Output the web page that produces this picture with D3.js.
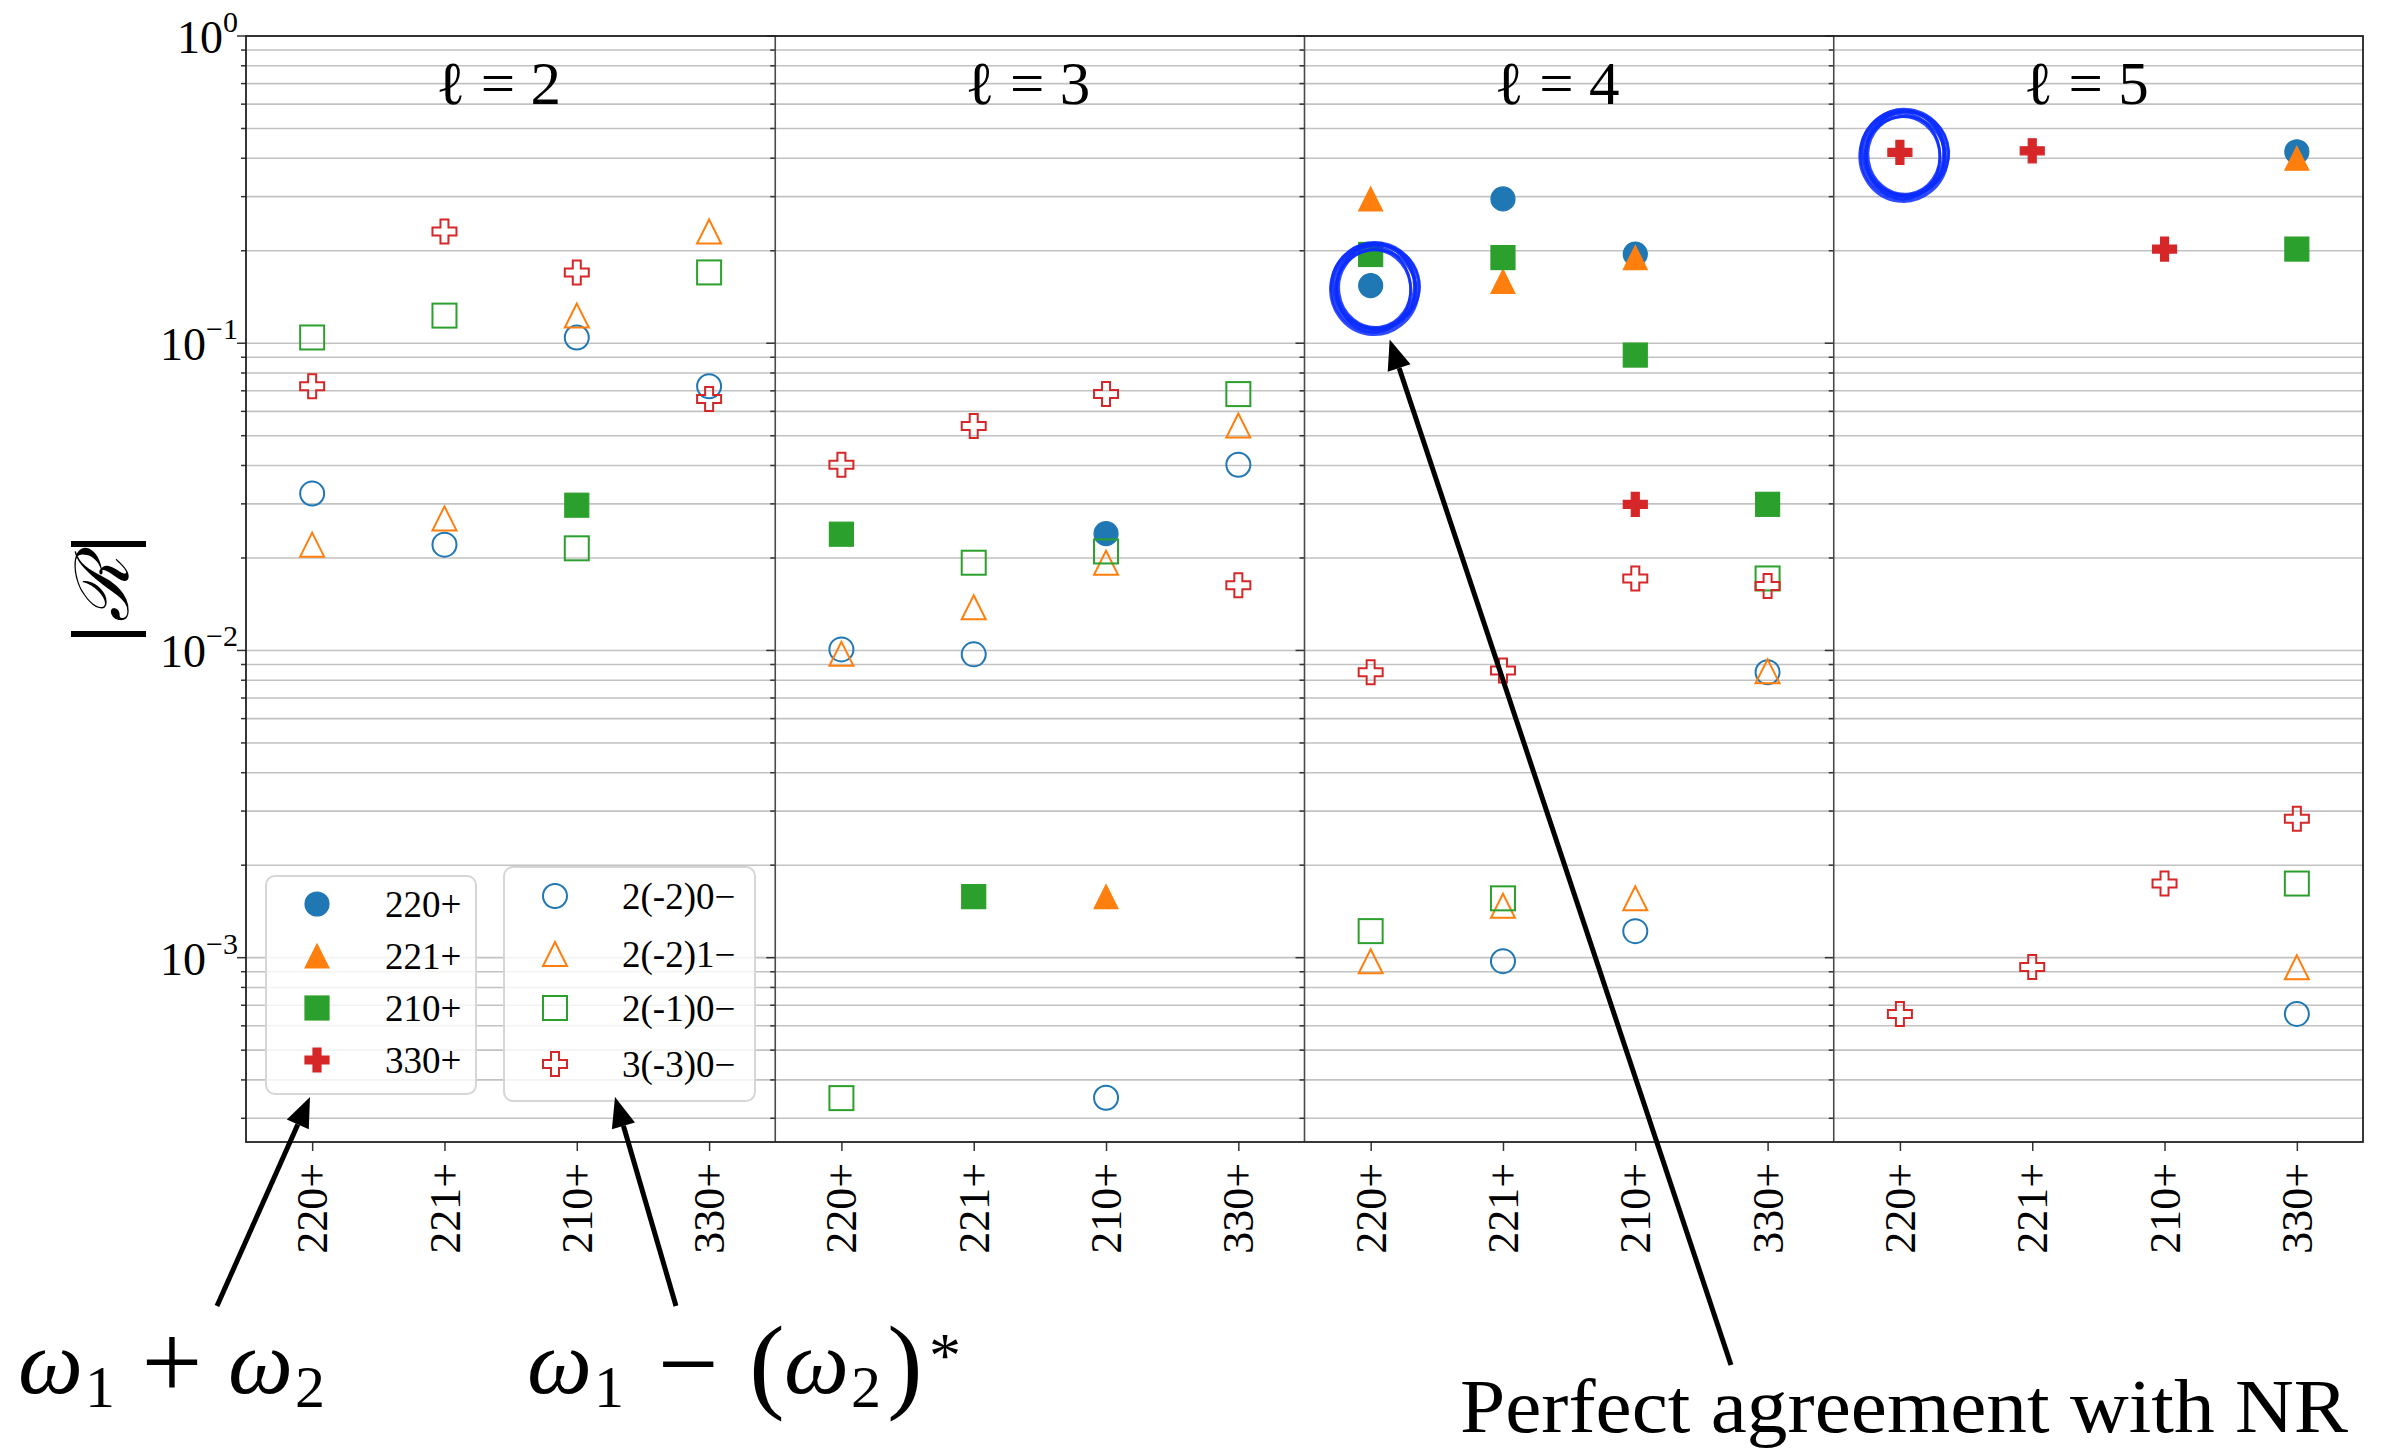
<!DOCTYPE html>
<html>
<head>
<meta charset="utf-8">
<script src="https://cdn.jsdelivr.net/npm/d3@7"></script>
<style>
  html, body { margin: 0; padding: 0; background: #fff; }
  svg { display: block; }
</style>
</head>
<body>
<svg id="chart" width="2381" height="1451"></svg>
<script>
// ---- data -------------------------------------------------------------
// One panel per multipole ℓ of the quadratic mode
const panels = ["2", "3", "4", "5"];
// Parent-mode combinations along each panel's x axis
const categories = ["220+", "221+", "210+", "330+"];

// Legend labels: sum-frequency (ω1+ω2) and difference-frequency (ω1−ω2*) families
const sumLabels = ["220+", "221+", "210+", "330+"];
const diffLabels = ["2(-2)0−", "2(-2)1−", "2(-1)0−", "3(-3)0−"];

// Decade ticks of the |R| axis and their exponents
const yTickValues = [1, 0.1, 0.01, 0.001];
const yTickExponents = ["0", "−1", "−2", "−3"];

// |R| values, 16 per series: ℓ = 2, 3, 4, 5, each over 220+, 221+, 210+, 330+
const r220p = [null, null, null, null,   null, null, 0.0240, null,   0.154, 0.295, 0.195, null,    null, null, null, 0.420];
const r221p = [null, null, null, null,   null, null, 0.00158, null,  0.295, 0.159, 0.190, null,    null, null, null, 0.400];
const r210p = [null, null, 0.0297, null, 0.0239, 0.00158, null, null, 0.1945, 0.190, 0.0915, 0.0299, null, null, null, 0.2025];
const r330p = [null, null, null, null,   null, null, null, null,     null, null, 0.0299, null,     0.418, 0.423, 0.2025, null];

const r2m20m = [0.0324, 0.0221, 0.1044, 0.0724,  0.01008, 0.00971, 0.00035, 0.0402,  null, 0.000974, 0.00122, 0.00849,  null, null, null, 0.000656];
const r2m21m = [0.0221, 0.0269, 0.123, 0.231,    0.00975, 0.01382, 0.0193, 0.0540,    0.000974, 0.001476, 0.00156, 0.00855, null, null, null, 0.00093];
const r2m10m = [0.1044, 0.123, 0.0215, 0.170,    0.000349, 0.0193, 0.0210, 0.0683,    0.00122, 0.00156, null, 0.01715,  null, null, null, 0.001743];
const r3m30m = [0.0724, 0.231, 0.170, 0.0658,    0.0402, 0.0538, 0.0683, 0.0163,      0.00849, 0.00861, 0.01715, 0.0162, 0.000656, 0.000933, 0.001743, 0.00283];

// ---- series styling ---------------------------------------------------
const palette = { blue: "#1f77b4", orange: "#ff7f0e", green: "#2ca02c", red: "#d62728" };
const series = [
  { label: sumLabels[0],  values: r220p,  shape: "circle",   color: palette.blue,   filled: true },
  { label: sumLabels[1],  values: r221p,  shape: "triangle", color: palette.orange, filled: true },
  { label: sumLabels[2],  values: r210p,  shape: "square",   color: palette.green,  filled: true },
  { label: sumLabels[3],  values: r330p,  shape: "plus",     color: palette.red,    filled: true },
  { label: diffLabels[0], values: r2m20m, shape: "circle",   color: palette.blue,   filled: false },
  { label: diffLabels[1], values: r2m21m, shape: "triangle", color: palette.orange, filled: false },
  { label: diffLabels[2], values: r2m10m, shape: "square",   color: palette.green,  filled: false },
  { label: diffLabels[3], values: r3m30m, shape: "plus",     color: palette.red,    filled: false }
];

// Points singled out by hand-drawn rings (panel, category, series index)
const highlights = [
  { panel: "4", cat: "220+", s: 0 },
  { panel: "5", cat: "220+", s: 3 }
];

// ---- layout -----------------------------------------------------------
const W = 2381, H = 1451;
const plot = { left: 246, right: 2363, top: 36, bottom: 1142 };
const panelW = (plot.right - plot.left) / panels.length;
const MS = 24;                       // marker size in px
const serif = "'Liberation Serif', 'DejaVu Serif', serif";

const y = d3.scaleLog().domain([Math.pow(10, -3.6), 1]).range([plot.bottom, plot.top]);
const xs = panels.map((p, i) =>
  d3.scalePoint().domain(categories)
    .range([plot.left + i * panelW, plot.left + (i + 1) * panelW])
    .padding(0.5));

const svg = d3.select("#chart");
svg.append("rect").attr("width", W).attr("height", H).attr("fill", "#fff");

// ---- grid (major + minor decades) -------------------------------------
const gridVals = y.ticks().filter(v => v >= y.domain()[0] * 0.999 && v <= 1.0001);
const isMajor = v => Math.abs(Math.log10(v) - Math.round(Math.log10(v))) < 1e-6;

svg.append("g").attr("class", "grid")
  .selectAll("line").data(gridVals).join("line")
  .attr("x1", plot.left).attr("x2", plot.right)
  .attr("y1", d => y(d)).attr("y2", d => y(d))
  .attr("stroke", "#c2c2c2").attr("stroke-width", 1.6);

// ---- y ticks on the left spine of every panel -------------------------
panels.forEach((p, i) => {
  const x0 = plot.left + i * panelW;
  svg.append("g").selectAll("line").data(gridVals).join("line")
    .attr("x1", d => x0 - (isMajor(d) ? 9 : 5)).attr("x2", x0)
    .attr("y1", d => y(d)).attr("y2", d => y(d))
    .attr("stroke", "#333").attr("stroke-width", 1.5);
});

// y tick labels 10^k
const yLab = svg.append("g").attr("font-family", serif).attr("fill", "#000");
yTickValues.forEach((v, k) => {
  const t = yLab.append("text")
    .attr("x", 238).attr("y", y(v) + 17)
    .attr("text-anchor", "end").attr("font-size", 46);
  t.append("tspan").text("10");
  t.append("tspan").attr("font-size", 30).attr("dy", -21).text(yTickExponents[k]);
});

// ---- x axes, one per panel --------------------------------------------
xs.forEach((xs_i, i) => {
  const gx = svg.append("g")
    .attr("transform", `translate(0,${plot.bottom})`)
    .call(d3.axisBottom(xs_i).tickSize(9));
  gx.select(".domain").remove();
  gx.selectAll(".tick line").attr("stroke", "#333").attr("stroke-width", 1.5);
  gx.selectAll(".tick text")
    .attr("font-family", serif).attr("font-size", 44).attr("fill", "#000")
    .attr("transform", "rotate(-90)")
    .attr("text-anchor", "end")
    .attr("x", -21).attr("y", 0).attr("dy", "0.33em");
});

// ---- panel frames -----------------------------------------------------
const frame = svg.append("g");
panels.slice(1).forEach((p, i) => {
  const x0 = plot.left + (i + 1) * panelW;
  frame.append("line").attr("x1", x0).attr("x2", x0)
    .attr("y1", plot.top).attr("y2", plot.bottom)
    .attr("stroke", "#4a4a4a").attr("stroke-width", 1.6);
});
frame.append("rect")
  .attr("x", plot.left).attr("y", plot.top)
  .attr("width", plot.right - plot.left).attr("height", plot.bottom - plot.top)
  .attr("fill", "none").attr("stroke", "#222").attr("stroke-width", 1.8);

// panel titles ℓ = n
panels.forEach((p, i) => {
  svg.append("text")
    .attr("x", plot.left + (i + 0.5) * panelW - 12).attr("y", 104)
    .attr("text-anchor", "middle")
    .attr("font-family", serif).attr("font-size", 61)
    .text(`ℓ = ${p}`);
});

// ---- markers ----------------------------------------------------------
function drawMarker(g, shape, cx, cy, s, color, filled) {
  const h = s / 2;
  let el;
  if (shape === "circle") {
    el = g.append("circle").attr("cx", cx).attr("cy", cy).attr("r", h);
  } else if (shape === "square") {
    el = g.append("rect").attr("x", cx - h).attr("y", cy - h).attr("width", s).attr("height", s);
  } else if (shape === "triangle") {
    el = g.append("path").attr("d", `M${cx},${cy - h}L${cx + h},${cy + h}L${cx - h},${cy + h}Z`);
  } else {
    const u = s / 6;
    const pts = [[-1, -3], [1, -3], [1, -1], [3, -1], [3, 1], [1, 1], [1, 3], [-1, 3], [-1, 1], [-3, 1], [-3, -1], [-1, -1]];
    el = g.append("path").attr("d", "M" + pts.map(([a, b]) => `${cx + a * u},${cy + b * u}`).join("L") + "Z");
  }
  el.attr("fill", filled ? color : "none")
    .attr("stroke", color)
    .attr("stroke-width", filled ? 1.2 : 2)
    .attr("stroke-linejoin", "miter");
  return el;
}

const markG = svg.append("g");
series.forEach(sr => {
  sr.values.forEach((v, k) => {
    if (v == null) return;
    const pi = Math.floor(k / categories.length);
    const ci = k % categories.length;
    drawMarker(markG, sr.shape, xs[pi](categories[ci]), y(v), MS, sr.color, sr.filled);
  });
});

// ---- legends ----------------------------------------------------------
const legends = [
  { x: 266, y: 876, w: 210, h: 218, mx: 317, tx: 385, rows: [904, 956, 1008, 1060], idx: [0, 1, 2, 3] },
  { x: 504, y: 867, w: 251, h: 234, mx: 555, tx: 622, rows: [896, 954, 1008, 1064], idx: [4, 5, 6, 7] }
];
legends.forEach(L => {
  const g = svg.append("g");
  g.append("rect").attr("x", L.x).attr("y", L.y).attr("width", L.w).attr("height", L.h)
    .attr("rx", 9).attr("fill", "#fff").attr("fill-opacity", 0.8)
    .attr("stroke", "#d6d6d6").attr("stroke-width", 2);
  L.idx.forEach((si, r) => {
    const sr = series[si];
    drawMarker(g, sr.shape, L.mx, L.rows[r], MS, sr.color, sr.filled);
    g.append("text").attr("x", L.tx).attr("y", L.rows[r]).attr("dy", "0.35em")
      .attr("font-family", serif).attr("font-size", 37).text(sr.label);
  });
});

// y-axis label |R|
svg.append("text")
  .attr("transform", `translate(${102},${(plot.top + plot.bottom) / 2}) rotate(-90)`)
  .attr("text-anchor", "middle").attr("dy", "0.35em")
  .attr("font-family", "'DejaVu Serif', serif").attr("font-style", "italic").attr("font-size", 74)
  .text("|ℛ|");

// ---- hand-drawn rings around the highlighted points -------------------
const ringCenters = highlights.map(hl => {
  const pi = panels.indexOf(hl.panel);
  const sr = series[hl.s];
  const v = sr.values[pi * categories.length + categories.indexOf(hl.cat)];
  return [xs[pi](hl.cat) + 4, y(v) + 2];
});
// several overlapping pen strokes give the marker-pen look
const ringStrokes = [
  { rx: 36, ry: 39, dx: 0, dy: 1, w: 3, rot: -8 },
  { rx: 39, ry: 42, dx: 1, dy: -1, w: 3.5, rot: 5 },
  { rx: 42, ry: 44, dx: -1, dy: 0, w: 3.5, rot: -3 },
  { rx: 44, ry: 46, dx: 0, dy: 1, w: 3, rot: 8 },
  { rx: 40, ry: 40, dx: 1, dy: 2, w: 3, rot: 12 },
  { rx: 37, ry: 43, dx: -1, dy: 2, w: 2.5, rot: 0 },
  { rx: 43, ry: 42, dx: 2, dy: -1, w: 2.5, rot: -15 }
];
ringCenters.forEach(([cx, cy]) => {
  const g = svg.append("g").attr("fill", "none").attr("stroke", "#0a2cff").attr("stroke-opacity", 0.85);
  ringStrokes.forEach(r => {
    g.append("ellipse")
      .attr("transform", `translate(${cx + r.dx},${cy + r.dy}) rotate(${r.rot})`)
      .attr("rx", r.rx).attr("ry", r.ry).attr("stroke-width", r.w);
  });
});

// ---- annotations with arrows -----------------------------------------
function arrow(x1, y1, x2, y2) {
  const ang = Math.atan2(y2 - y1, x2 - x1);
  const len = 30, hw = 12;
  const bx = x2 - len * Math.cos(ang), by = y2 - len * Math.sin(ang);
  const nx = -Math.sin(ang), ny = Math.cos(ang);
  svg.append("line").attr("x1", x1).attr("y1", y1).attr("x2", bx).attr("y2", by)
    .attr("stroke", "#000").attr("stroke-width", 5);
  svg.append("path")
    .attr("d", `M${x2},${y2}L${bx + nx * hw},${by + ny * hw}L${bx - nx * hw},${by - ny * hw}Z`)
    .attr("fill", "#000");
}
arrow(217, 1306, 310, 1097);
arrow(676, 1306, 615, 1097);
const [r1x, r1y] = ringCenters[0];
arrow(1731, 1365, r1x + 15, r1y + 52);

const ann = svg.append("g").attr("font-family", serif).attr("fill", "#000");
// ω with a numeric subscript, kept in one text element
function omega(x, idx) {
  const e = ann.append("text").attr("x", x).attr("y", 1393).attr("font-size", 92);
  e.append("tspan").attr("font-style", "italic").text("ω");
  e.append("tspan").attr("font-size", 60).attr("dx", 2).attr("dy", 14).text(idx);
  return e;
}
function sym(x, yb, str, size) {
  return ann.append("text").attr("x", x).attr("y", yb).attr("font-size", size)
    .attr("text-anchor", "middle").text(str);
}
// ω1 + ω2
omega(18, "1");
sym(172, 1398, "+", 108);
omega(228, "2");
// ω1 − (ω2)*
omega(527, "1");
sym(688, 1400, "−", 108);
sym(767, 1399, "(", 106);
omega(784, "2");
sym(905, 1399, ")", 106);
sym(945, 1377, "*", 64);

ann.append("text").attr("x", 1460).attr("y", 1432)
  .attr("font-size", 76).attr("textLength", 888).attr("lengthAdjust", "spacingAndGlyphs")
  .text("Perfect agreement with NR");
</script>
</body>
</html>
